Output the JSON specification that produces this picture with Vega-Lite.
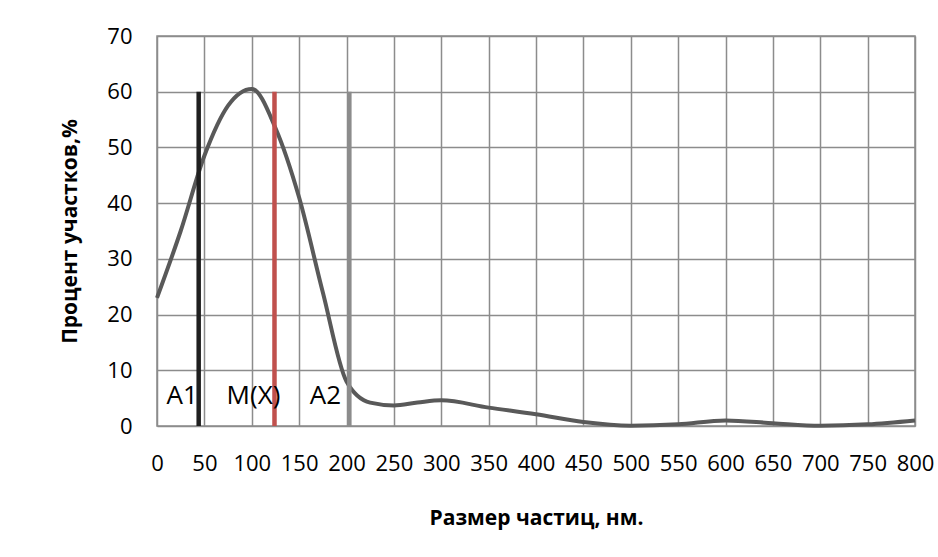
{
  "$schema": "https://vega.github.io/schema/vega-lite/v6.json",
  "width": 758,
  "height": 390,
  "autosize": "none",
  "padding": {"left": 157, "top": 36, "right": 23, "bottom": 131},
  "background": "white",
  "config": {
    "font": "Open Sans",
    "view": {"stroke": "#8c8c8c", "strokeWidth": 1.5},
    "axis": {
      "domain": false,
      "ticks": false,
      "grid": true,
      "gridColor": "#8c8c8c",
      "gridWidth": 1.5,
      "gridOpacity": 1,
      "labelFont": "Open Sans",
      "labelFontSize": 22,
      "labelColor": "#000000",
      "labelFlush": false,
      "labelOverlap": false,
      "titleFont": "Open Sans",
      "titleFontSize": 21,
      "titleFontWeight": "bold",
      "titleColor": "#000000"
    }
  },
  "datasets": {
    "curve": [
      {"x": 0, "y": 23},
      {"x": 25, "y": 35},
      {"x": 50, "y": 48.5},
      {"x": 75, "y": 57.5},
      {"x": 100, "y": 60.5},
      {"x": 125, "y": 53.5},
      {"x": 150, "y": 41},
      {"x": 175, "y": 24},
      {"x": 200, "y": 8},
      {"x": 225, "y": 4.2},
      {"x": 250, "y": 3.7},
      {"x": 275, "y": 4.2},
      {"x": 300, "y": 4.6},
      {"x": 350, "y": 3.3},
      {"x": 400, "y": 2.1},
      {"x": 450, "y": 0.7},
      {"x": 500, "y": 0.05},
      {"x": 550, "y": 0.3},
      {"x": 600, "y": 1.0},
      {"x": 650, "y": 0.5},
      {"x": 700, "y": 0.05},
      {"x": 750, "y": 0.3},
      {"x": 800, "y": 1.0}
    ],
    "markers": [
      {"name": "A1", "x": 44, "bottom": 0, "top": 60, "labelX": 26.6, "labelY": 5.4},
      {"name": "M(X)", "x": 124, "bottom": 0, "top": 60, "labelX": 101.8, "labelY": 5.4},
      {"name": "A2", "x": 203, "bottom": 0, "top": 60, "labelX": 177.7, "labelY": 5.4}
    ]
  },
  "layer": [
    {
      "data": {"name": "curve"},
      "mark": {"type": "line", "interpolate": "monotone", "strokeWidth": 4, "color": "#595959"},
      "encoding": {
        "x": {
          "field": "x",
          "type": "quantitative",
          "scale": {"domain": [0, 800], "nice": false},
          "axis": {
            "values": [0, 50, 100, 150, 200, 250, 300, 350, 400, 450, 500, 550, 600, 650, 700, 750, 800],
            "labelPadding": 27,
            "title": "Размер частиц, нм.",
            "titlePadding": 33
          }
        },
        "y": {
          "field": "y",
          "type": "quantitative",
          "scale": {"domain": [0, 70], "nice": false},
          "axis": {
            "values": [0, 10, 20, 30, 40, 50, 60, 70],
            "labelPadding": 25,
            "title": "Процент участков,%",
            "titlePadding": 26
          }
        }
      }
    },
    {
      "data": {"name": "markers"},
      "mark": {"type": "rule", "strokeWidth": 4.5},
      "encoding": {
        "x": {"field": "x", "type": "quantitative"},
        "y": {"field": "bottom", "type": "quantitative"},
        "y2": {"field": "top"},
        "color": {
          "field": "name",
          "type": "nominal",
          "scale": {"domain": ["A1", "M(X)", "A2"], "range": ["#1f1f1f", "#c0504d", "#8c8c8c"]},
          "legend": null
        }
      }
    },
    {
      "data": {"name": "markers"},
      "mark": {"type": "text", "fontSize": 26, "font": "Open Sans", "color": "#000000", "baseline": "middle", "align": "center"},
      "encoding": {
        "x": {"field": "labelX", "type": "quantitative"},
        "y": {"field": "labelY", "type": "quantitative"},
        "text": {"field": "name"}
      }
    }
  ]
}
